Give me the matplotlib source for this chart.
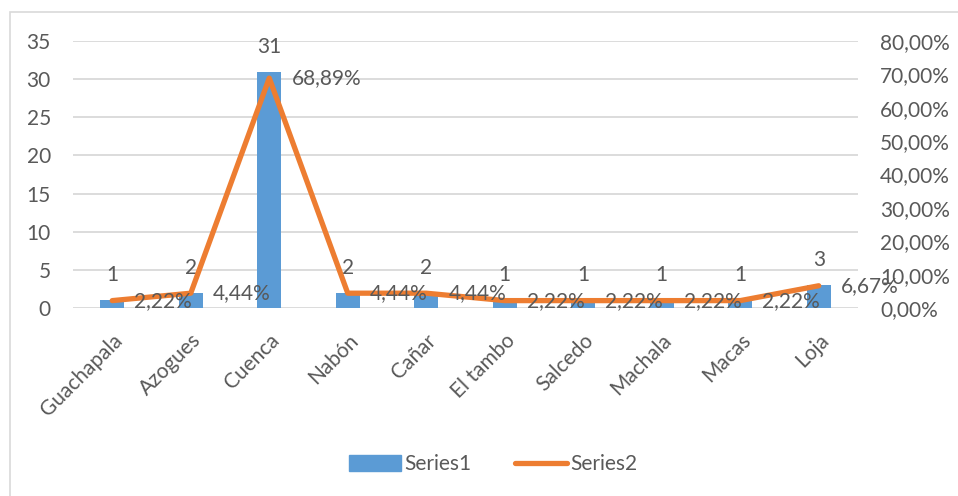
import matplotlib
matplotlib.use("Agg")
import matplotlib.pyplot as plt
from matplotlib.patches import Rectangle
from matplotlib.ticker import FuncFormatter

# datos del grafico
ciudades = ['Guachapala', 'Azogues', 'Cuenca', 'Nabón', 'Cañar',
            'El tambo', 'Salcedo', 'Machala', 'Macas', 'Loja']
series1 = [1, 2, 31, 2, 2, 1, 1, 1, 1, 3]
series2 = [0.0222, 0.0444, 0.6889, 0.0444, 0.0444,
           0.0222, 0.0222, 0.0222, 0.0222, 0.0667]
series2_labels = ['2,22%', '4,44%', '68,89%', '4,44%', '4,44%',
                  '2,22%', '2,22%', '2,22%', '2,22%', '6,67%']

azul = '#5B9BD5'
naranja = '#ED7D31'
texto = '#595959'
grid = '#D9D9D9'

plt.rcParams['font.family'] = ['Lato', 'DejaVu Sans']
fs = 15

fig = plt.figure(figsize=(9.58, 4.96), dpi=100)
ax = fig.add_axes([0.0762, 0.379, 0.8194, 0.5383])
ax2 = ax.twinx()

x = list(range(len(ciudades)))

# barras
ax.bar(x, series1, width=0.31, color=azul, zorder=2)
ax.set_xlim(-0.5, len(ciudades) - 0.5)
ax.set_ylim(0, 35)
ax.set_yticks(range(0, 36, 5))
ax.grid(axis='y', color=grid, linewidth=1.3, zorder=0)
ax.set_axisbelow(True)
ax.set_xticks(x)
ax.set_xticklabels(ciudades, rotation=45, ha='right', rotation_mode='anchor',
                   fontsize=fs, color=texto)
ax.tick_params(axis='both', length=0, labelsize=fs, labelcolor=texto)
ax.tick_params(axis='y', pad=16)
ax.tick_params(axis='x', pad=16)
for s in ax.spines.values():
    s.set_visible(False)

for xi, v in zip(x, series1):
    ax.annotate(str(v), (xi, v), xytext=(0, 18), textcoords='offset points',
                ha='center', va='center', fontsize=fs, color=texto, zorder=5)

# linea
ax2.plot(x, series2, color=naranja, linewidth=3.8, solid_capstyle='round',
         solid_joinstyle='round', zorder=3)
ax2.set_ylim(0, 0.8)
ax2.set_yticks([i / 10 for i in range(9)])
ax2.yaxis.set_major_formatter(FuncFormatter(lambda v, p: ('%.2f%%' % (v * 100)).replace('.', ',')))
ax2.tick_params(axis='y', length=0, labelsize=fs, labelcolor=texto, pad=16)
for s in ax2.spines.values():
    s.set_visible(False)

for xi, v, lab in zip(x, series2, series2_labels):
    ax2.annotate(lab, (xi, v), xytext=(16, 0), textcoords='offset points',
                 ha='left', va='center', fontsize=fs, color=texto, zorder=6)

# leyenda
handles = [Rectangle((0, 0), 1, 1, color=azul),
           plt.Line2D([0], [0], color=naranja, linewidth=3.8, solid_capstyle='round')]
fig.legend(handles, ['Series1', 'Series2'], loc='center', bbox_to_anchor=(0.515, 0.064),
           ncol=2, frameon=False, fontsize=fs, labelcolor=texto,
           handlelength=2.5, handleheight=0.8, columnspacing=2.1, handletextpad=0.15)

# borde del grafico
fig.patches.append(Rectangle((10 / 958, -0.05), 1.05, 1 - 12 / 496 + 0.05,
                             transform=fig.transFigure, fill=False,
                             edgecolor='#D9D9D9', linewidth=1.2))

fig.savefig('out.png', dpi=100)
